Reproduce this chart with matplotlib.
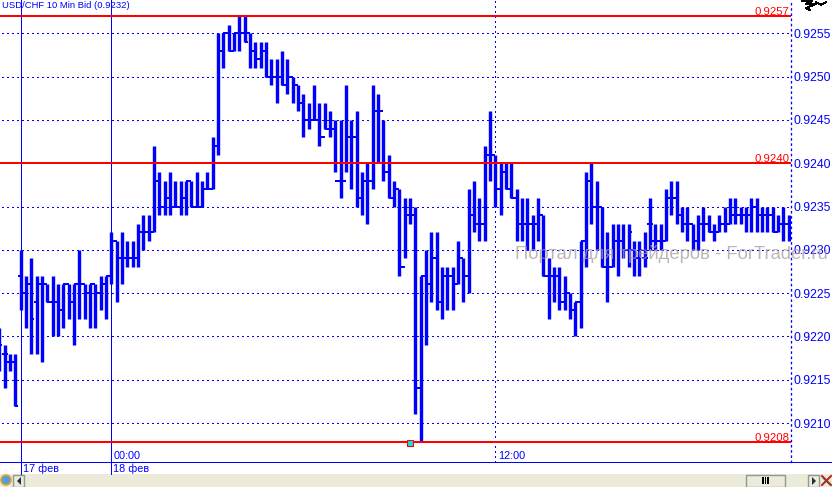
#!/usr/bin/env python3
import numpy as np
import matplotlib
matplotlib.use('Agg')
import matplotlib.pyplot as plt
from matplotlib.patches import Rectangle, Circle, Polygon

plt.rcParams['font.family'] = ['Liberation Sans', 'DejaVu Sans']

# 10 min bars, prices in pips (0.0001), bar -21 is the leftmost one, bar 0 is 18 feb 00:00
first_bar = -21
highs = [9221, 9219, 9218, 9218,
    9230, 9227, 9229, 9227, 9227, 9226, 9227, 9226, 9226, 9226, 9226, 9230, 9226, 9226, 9226, 9227, 9227,
    9232, 9231, 9232, 9231, 9231, 9233, 9234, 9234, 9242, 9239, 9238, 9239, 9238, 9238, 9238, 9238, 9239, 9238, 9239, 9243,
    9255, 9255, 9256, 9255, 9257, 9257, 9255, 9254, 9254, 9254,
    9252, 9252, 9253, 9252, 9250, 9249, 9248, 9247, 9249, 9247, 9247, 9246, 9245, 9245, 9249, 9245, 9246, 9239, 9240, 9249,
    9248, 9245, 9241, 9238, 9237, 9236, 9236, 9235, 9227, 9230, 9232, 9232, 9228, 9228, 9228, 9231, 9229, 9237, 9238, 9236,
    9242, 9246, 9241, 9240, 9240, 9240, 9237, 9236, 9236, 9234, 9236, 9234, 9229, 9228, 9228, 9227, 9225, 9224, 9231, 9239,
    9240, 9238, 9235, 9232, 9233, 9233, 9233, 9233, 9231, 9231, 9232, 9236, 9233, 9233, 9237, 9238, 9238, 9235, 9235, 9233,
    9234, 9235, 9234, 9233, 9234, 9235, 9236, 9236, 9235, 9235, 9236, 9236, 9235, 9235, 9235, 9234, 9235, 9234]
lows = [9216, 9214, 9216, 9212,
    9223, 9221, 9218, 9218, 9217, 9224, 9220, 9220, 9221, 9222, 9219, 9222, 9222, 9221, 9221, 9223, 9222,
    9226, 9224, 9226, 9228, 9228, 9228, 9230, 9231, 9232, 9234, 9234, 9234, 9235, 9234, 9234, 9235, 9235, 9235, 9237, 9237,
    9241, 9251, 9253, 9253, 9253, 9254, 9251, 9251, 9251, 9250,
    9249, 9247, 9249, 9248, 9247, 9246, 9243, 9244, 9245, 9242, 9244, 9243, 9239, 9236, 9239, 9237, 9235, 9234, 9233, 9237,
    9240, 9238, 9236, 9235, 9227, 9229, 9233, 9211, 9207.8, 9219, 9224, 9223, 9222, 9223, 9223, 9226, 9224, 9225, 9232, 9231,
    9231, 9238, 9235, 9234, 9237, 9236, 9231, 9231, 9230, 9230, 9231, 9227, 9222, 9224, 9223, 9223, 9222, 9220, 9221, 9228,
    9233, 9230, 9228, 9224, 9228, 9227, 9229, 9228, 9227, 9227, 9228, 9230, 9230, 9230, 9231, 9234, 9233, 9232, 9231, 9230,
    9230, 9231, 9232, 9231, 9232, 9232, 9233, 9233, 9233, 9232, 9232, 9232, 9232, 9232, 9232, 9232, 9231, 9231]
opens = [9220, 9218, 9217, 9217,
    9227, 9225, 9226, 9224, 9226, 9226, 9224, 9224, 9223, 9226, 9224, 9226, 9226, 9225, 9226, 9225, 9226,
    9227, 9231, 9229, 9229, 9229, 9229, 9232, 9232, 9232, 9238, 9235, 9236, 9235, 9235, 9236, 9238, 9235, 9235, 9237, 9237,
    9242, 9253, 9255, 9253, 9255, 9255, 9255, 9253, 9252, 9253,
    9250, 9250, 9250, 9249, 9250, 9249, 9247, 9245, 9245, 9245, 9243, 9244, 9244, 9238, 9238, 9243, 9243, 9236, 9238, 9238,
    9246, 9246, 9239, 9236, 9237, 9228, 9234, 9234, 9214, 9227, 9226, 9229, 9224, 9227, 9227, 9226, 9229, 9227, 9234, 9233,
    9233, 9241, 9241, 9237, 9239, 9237, 9236, 9233, 9233, 9233, 9233, 9234, 9227, 9227, 9227, 9224, 9225, 9223, 9224, 9231,
    9238, 9235, 9235, 9228, 9228, 9231, 9231, 9230, 9230, 9229, 9229, 9233, 9231, 9231, 9231, 9236, 9236, 9234, 9233, 9233,
    9231, 9233, 9233, 9232, 9232, 9233, 9233, 9234, 9234, 9234, 9234, 9235, 9234, 9234, 9234, 9232, 9233, 9233]
closes = [9219, 9218, 9217, 9212,
    9225, 9226, 9222, 9226, 9226, 9224, 9224, 9223, 9226, 9224, 9226, 9226, 9225, 9226, 9225, 9226, 9227,
    9231, 9229, 9229, 9229, 9229, 9232, 9232, 9232, 9238, 9235, 9236, 9235, 9235, 9236, 9238, 9235, 9235, 9237, 9237, 9240,
    9253, 9255, 9253, 9255, 9255, 9254, 9253, 9252, 9253, 9250,
    9250, 9250, 9249, 9250, 9249, 9247, 9245, 9245, 9245, 9243, 9244, 9244, 9238, 9238, 9243, 9243, 9236, 9238, 9238, 9246,
    9246, 9239, 9236, 9237, 9228, 9234, 9234, 9214, 9227, 9226, 9229, 9224, 9227, 9227, 9226, 9229, 9227, 9234, 9233, 9233,
    9241, 9241, 9237, 9239, 9237, 9236, 9233, 9233, 9233, 9233, 9234, 9227, 9227, 9227, 9224, 9225, 9223, 9224, 9231, 9238,
    9235, 9235, 9228, 9228, 9231, 9231, 9230, 9232, 9229, 9230, 9229, 9233, 9231, 9231, 9236, 9236, 9234, 9233, 9233, 9231,
    9233, 9233, 9232, 9232, 9233, 9233, 9234, 9234, 9234, 9234, 9235, 9234, 9234, 9234, 9232, 9233, 9233, 9233]

levels = [9257, 9240, 9207.8]
level_labels = ['0.9257', '0.9240', '0.9208']
price_ticks = [9210, 9215, 9220, 9225, 9230, 9235, 9240, 9245, 9250, 9255]
date_lines = [-17, 0]
date_labels = ['17 фев', '18 фев']
time_ticks = [0, 72]
time_labels = ['00:00', '12:00']
title = 'USD/CHF 10 Min Bid (0.9232)'
watermark = 'Портал для трейдеров - ForTrader.ru'

BLUE = '#0000ff'
RED = '#ff0000'
W, H = 832, 487
px = 72 / 100
dots = (0, (1, 3))

fig = plt.figure(figsize=(W / 100, H / 100), dpi=100, facecolor='white')

# pixel overlay for the window furniture
bg = fig.add_axes([0, 0, 1, 1])
bg.set_xlim(0, W)
bg.set_ylim(H, 0)
bg.axis('off')

# main chart: 5.333 px per bar, 86.6 px per 10 pips
right_edge, bottom_edge = 791, 462
ax = fig.add_axes([0, 1 - bottom_edge / H, right_edge / W, bottom_edge / H])
ax.patch.set_alpha(0)
bar_px, pip_px = 5.333, 8.66
ax.set_xlim(-111.3 / bar_px, (right_edge - 111.3) / bar_px)
ax.set_ylim(9255 - (bottom_edge - 33.3) / pip_px, 9255 + 33.3 / pip_px)

ax.hlines(price_ticks, ax.get_xlim()[0] + 0.4, ax.get_xlim()[1], color=BLUE, lw=1.3 * px,
    linestyles=dots, antialiased=False, zorder=1)
ax.axvline(72, color=BLUE, lw=1.3 * px, ls=dots, antialiased=False, zorder=1)
for x in date_lines:
    ax.plot([x, x], [0, 1], transform=ax.get_xaxis_transform(), color=BLUE, lw=px,
        antialiased=False, clip_on=False, zorder=1)
    bg.plot([111.3 + x * bar_px] * 2, [bottom_edge, 474], color=BLUE, lw=px, antialiased=False)

for side in ['top', 'left', 'bottom']:
    ax.spines[side].set_visible(False)
ax.spines['right'].set_color(BLUE)
ax.spines['right'].set_linewidth(1.3 * px)
ax.spines['right'].set_linestyle(dots)

ax.yaxis.tick_right()
ax.set_yticks(price_ticks)
ax.set_yticklabels(['0.%d' % p for p in price_ticks], color=BLUE, fontsize=8.8)
ax.tick_params(axis='y', length=0, pad=1.5)
ax.set_xticks([])

bars = np.arange(first_bar, first_bar + len(highs))
ax.vlines(bars, lows, highs, color=BLUE, lw=3.4 * px, snap=True, zorder=3)
ax.hlines(opens, bars - 0.55, bars, color=BLUE, lw=2 * px, snap=True, zorder=3)
ax.hlines(closes, bars, bars + 0.55, color=BLUE, lw=2 * px, snap=True, zorder=3)

for lev, lab in zip(levels, level_labels):
    ax.axhline(lev, color=RED, lw=2 * px, snap=True, zorder=4)
    ax.text(0.998, lev - 0.1, lab, transform=ax.get_yaxis_transform(), color=RED, fontsize=8.2,
        ha='right', va='bottom', zorder=5)
ax.plot([56], [levels[2] - 0.15], marker='s', ms=4, mfc='#00e8e8', mec=RED, mew=0.8, zorder=5)

ax.text(0.003, 0.9885, title, transform=ax.transAxes, color=BLUE, fontsize=6.8, ha='left', va='center')
ax.text(515 / right_edge, 1 - 254 / 462, watermark, transform=ax.transAxes, color='#a89c9c', fontsize=13.2,
    alpha=0.75, ha='left', va='center', clip_on=False, zorder=6)

for x, lab in zip(time_ticks, time_labels):
    ax.text(x + 0.5, 9255 - (456 - 33.3) / pip_px, lab, color=BLUE, fontsize=7.8, ha='left', va='center')
for x, lab in zip(date_lines, date_labels):
    bg.text(111.3 + x * bar_px + 2, 468.5, lab, color=BLUE, fontsize=7.8, ha='left', va='center')

# bottom strip
bg.plot([0, W], [bottom_edge, bottom_edge], color=BLUE, lw=px, antialiased=False)
bg.add_patch(Rectangle((0, 474), W, 13, fc='#ecead8', ec='none'))
bg.add_patch(Circle((6, 480), 5, fc='#5b9bd5', ec='#d8a83a', lw=1.2))
bg.add_patch(Rectangle((13, 475), 11, 11.5, fc='#ecead8', ec='#8b9a9a', lw=1))
bg.add_patch(Polygon([[17, 481], [21, 477], [21, 485]], fc='#203040', ec='none'))
bg.add_patch(Rectangle((746, 474.5), 39, 12, fc='#ecead8', ec='#8b9a9a', lw=1))
for x in [763, 765.5, 768]:
    bg.add_patch(Rectangle((x - 0.7, 477), 1.6, 7, fc='black', ec='none'))
bg.add_patch(Rectangle((808, 475), 11, 11.5, fc='#ecead8', ec='#8b9a9a', lw=1))
bg.add_patch(Polygon([[816, 481], [812, 477], [812, 485]], fc='#203040', ec='none'))
bg.plot([822, 831], [476, 485], color='#c02020', lw=2 * px)
bg.plot([822, 831], [485, 476], color='#c02020', lw=2 * px)
bg.plot([823, 830], [478, 485], color='#406040', lw=px)

# little toolbar glyph top right
bg.plot([802, 812, 806, 816, 806, 810], [1, 1, 4, 4, 8, 10], color='black', lw=px, antialiased=False)
bg.plot([816, 821, 826], [2, 5, 2], color='black', lw=px, antialiased=False)

fig.savefig('out.png', dpi=100)
